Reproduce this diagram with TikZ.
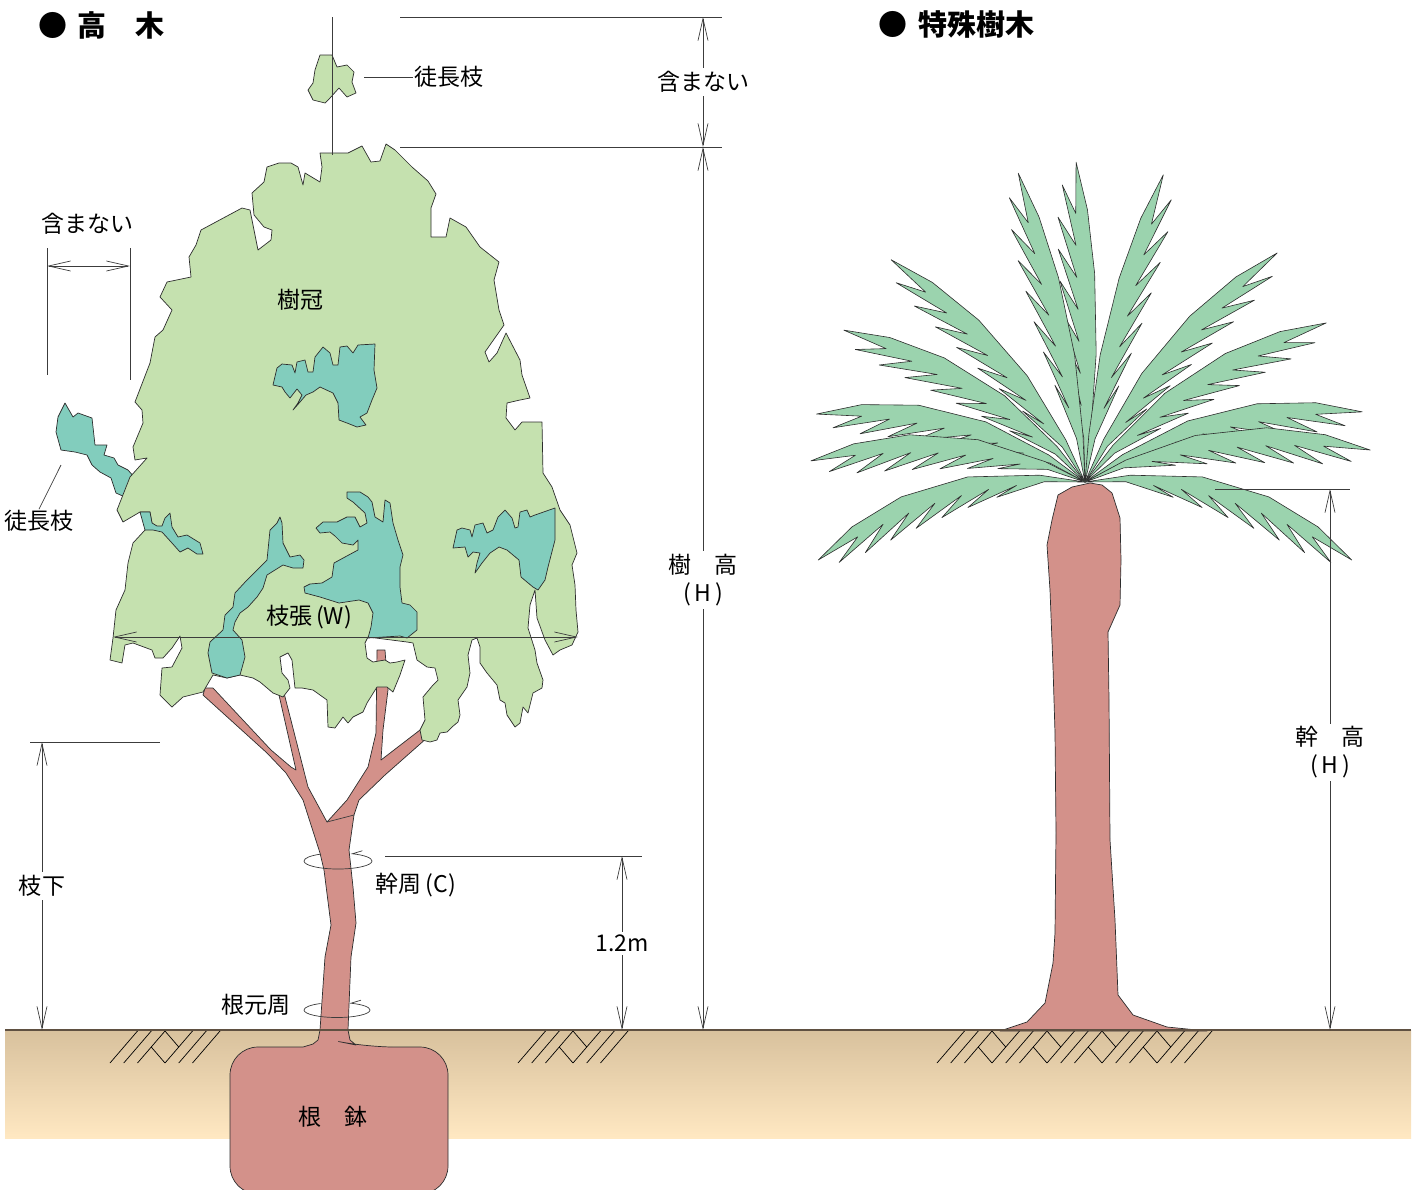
\documentclass[tikz,border=0pt]{standalone}
\usepackage{fontspec}
\newfontfamily\jpfont{Noto Sans CJK JP}
\usetikzlibrary{arrows.meta}
\definecolor{crowngreen}{RGB}{197,225,175}
\definecolor{tealgreen}{RGB}{130,205,189}
\definecolor{barkred}{RGB}{211,145,138}
\definecolor{frondgreen}{RGB}{155,211,174}
\definecolor{soiltop}{RGB}{216,193,157}
\definecolor{soilbot}{RGB}{255,232,194}
\definecolor{outline}{RGB}{45,45,45}
\definecolor{dimgray}{RGB}{60,60,60}
\definecolor{groundline}{RGB}{95,80,65}

\begin{document}
\begin{tikzpicture}[x=1pt, y=-1pt, >={Straight Barb[length=22pt,width=10pt]},
	every node/.style={font=\jpfont\fontsize{23}{28}\selectfont, inner sep=1pt, align=center}]
	\tikzset{
		crown/.style={fill=crowngreen, draw=outline, line width=0.7pt, line join=round},
		tealpatch/.style={fill=tealgreen, draw=outline, line width=0.7pt, line join=round},
		bark/.style={fill=barkred, draw=outline, line width=0.7pt, line join=round},
		leafy/.style={fill=frondgreen, draw=outline, line width=0.6pt, line join=round},
		dimline/.style={draw=dimgray, line width=0.7pt},
		hatchline/.style={draw=black, line width=0.7pt},
		lab/.style={fill=white, inner sep=3pt},
		heading/.style={anchor=west, inner sep=0pt, font=\jpfont\bfseries\fontsize{29}{32}\selectfont},
		pics/frond/.style={code={
			\draw[leafy] (0,0) -- (15,{-4+.51*#1}) -- (40,{-9+.96*#1}) -- (65,{-10+.91*#1})
				-- (85,{-7+.51*#1}) -- (100,0)
				-- (84,{5+.54*#1}) -- (93,{16+.26*#1}) -- (74,{7+.77*#1}) -- (83,{23+.56*#1})
				-- (64,{8+.92*#1}) -- (73,{25+.79*#1}) -- (54,{8+.99*#1}) -- (63,{25+.93*#1})
				-- (44,{8+.99*#1}) -- (53,{24+#1}) -- (34,{7+.9*#1}) -- (43,{21+.98*#1})
				-- (24,{6+.73*#1}) -- (32,{16+.87*#1}) -- (14,{3+.49*#1}) -- cycle;}}
	}
	\useasboundingbox (0,0) rectangle (1421,1189);

	% soil
	\fill[top color=soiltop, bottom color=soilbot] (5,1030) rectangle (1411,1138);
	\foreach \x/\ks in {110/{0,1,2,4,5,6}, 518/{0,1,2,4,5,6}, 937/{0,1,2,4,5,6,8,9,10,12,13,14,16,17,18}}
		\foreach \k in \ks
			\draw[hatchline] (\x+\k*13.75,1063) -- ++(27.5,-32);
	\foreach \c in {165, 573, 992, 1047, 1102, 1157}
		\draw[hatchline] (\c,1031) -- ++(13.75,16) (\c-13.75,1047) -- ++(13.75,16);

	% root ball and trunk
	\draw[bark] (320,1030) -- (318,1040) -- (313,1044) -- (303,1047) [rounded corners=28pt] -- (230,1047)
		-- (230,1194) -- (448,1194) -- (448,1047) -- (366,1047) [sharp corners] -- (356,1045) -- (350,1040) -- (348,1030);
	\draw[bark] (320,1030) -- (325,957) -- (331,925) -- (324,870) -- (320,853) -- (303,800) -- (286,773)
		-- (267,753) -- (203,695) -- (205,688) -- (213,688) -- (271,750) -- (291,767) -- (296,770)
		-- (279,695) -- (284,693) -- (308,787) -- (327,822) -- (347,800) -- (368,767) -- (376,733)
		-- (377,650) -- (385,650) -- (388,690) -- (383,730) -- (381,760) -- (420,730) -- (428,737)
		-- (385,775) -- (359,800) -- (354,815) -- (349,850) -- (353,887) -- (356,923) -- (351,957)
		-- (348,1030) -- cycle;
	\draw[dimline] (327,822) -- (354,815);

	% water sprouts and crown
	\draw[tealpatch] (56,432) -- (58,417) -- (65,403) -- (73,417) -- (78,413) -- (92,418) -- (95,445)
		-- (107,445) -- (104,455) -- (114,458) -- (118,465) -- (128,470) -- (135,478) -- (135,492)
		-- (125,497) -- (116,493) -- (111,478) -- (100,472) -- (92,465) -- (87,455) -- (75,452)
		-- (61,450) -- cycle;
	\draw[crown] (308,90) -- (313,83) -- (315,70) -- (320,55) -- (332,55) -- (337,67) -- (347,65)
		-- (354,72) -- (352,82) -- (356,93) -- (347,97) -- (339,88) -- (330,98) -- (325,103)
		-- (313,100) -- cycle;
	\draw[crown] (320,153) -- (348,153) -- (362,146) -- (371,162) -- (380,161) -- (386,144) -- (395,150)
		-- (412,167) -- (428,181) -- (436,194) -- (431,208) -- (431,237) -- (446,237) -- (450,218)
		-- (466,227) -- (480,247) -- (499,262) -- (494,280) -- (499,310) -- (504,325) -- (485,352)
		-- (489,362) -- (497,353) -- (506,333) -- (520,360) -- (522,375) -- (530,398) -- (520,400)
		-- (507,403) -- (506,418) -- (515,430) -- (522,422) -- (542,422) -- (543,473) -- (552,487)
		-- (560,510) -- (570,525) -- (577,553) -- (572,565) -- (575,585) -- (576,610) -- (578,632)
		-- (572,645) -- (560,650) -- (553,655) -- (545,640) -- (537,618) -- (535,590) -- (530,605)
		-- (528,628) -- (535,650) -- (537,663) -- (543,680) -- (542,688) -- (533,693) -- (528,713)
		-- (523,707) -- (520,723) -- (515,727) -- (507,715) -- (505,703) -- (500,700) -- (497,685)
		-- (487,673) -- (480,663) -- (480,647) -- (477,638) -- (472,640) -- (468,655) -- (470,673)
		-- (467,687) -- (458,700) -- (460,715) -- (458,722) -- (452,727) -- (447,732) -- (440,733)
		-- (437,740) -- (430,742) -- (422,740) -- (420,730) -- (425,720) -- (423,697) -- (433,685)
		-- (438,680) -- (435,668) -- (427,667) -- (417,660) -- (413,643) -- (407,642) -- (368,637)
		-- (365,643) -- (367,658) -- (373,662) -- (385,660) -- (390,663) -- (397,662) -- (405,660)
		-- (400,675) -- (393,692) -- (387,687) -- (377,687) -- (367,703) -- (363,712) -- (353,717)
		-- (348,723) -- (343,717) -- (335,728) -- (328,727) -- (327,700) -- (313,690) -- (302,688)
		-- (295,688) -- (292,660) -- (288,653) -- (280,657) -- (282,673) -- (288,680) -- (290,688)
		-- (283,697) -- (273,693) -- (260,682) -- (253,678) -- (240,675) -- (227,678) -- (213,675)
		-- (203,692) -- (183,697) -- (172,707) -- (160,695) -- (162,668) -- (172,667) -- (182,648)
		-- (180,636) -- (172,648) -- (163,658) -- (155,658) -- (152,650) -- (133,643) -- (125,645)
		-- (122,663) -- (110,660) -- (113,638) -- (116,610) -- (125,590) -- (128,563) -- (133,543)
		-- (145,530) -- (152,523) -- (150,512) -- (140,512) -- (123,522) -- (117,510) -- (130,477)
		-- (147,458) -- (135,460) -- (133,447) -- (143,423) -- (142,410) -- (135,402) -- (150,363)
		-- (155,337) -- (163,330) -- (172,310) -- (160,297) -- (167,282) -- (191,277) -- (189,257)
		-- (196,245) -- (201,230) -- (242,208) -- (250,210) -- (258,250) -- (271,240) -- (272,230)
		-- (264,227) -- (254,215) -- (252,193) -- (264,182) -- (267,167) -- (279,163) -- (291,163)
		-- (298,167) -- (303,185) -- (305,173) -- (320,182) -- (322,167) -- cycle;

	% shaded patches in the crown
	\draw[tealpatch] (273,385) -- (277,368) -- (282,364) -- (292,365) -- (295,373) -- (297,362) -- (305,360)
		-- (308,372) -- (313,372) -- (315,357) -- (323,347) -- (330,353) -- (333,365) -- (338,365)
		-- (340,347) -- (347,346) -- (353,353) -- (358,345) -- (375,344) -- (374,370) -- (377,388)
		-- (372,400) -- (367,413) -- (360,417) -- (366,425) -- (357,427) -- (347,423) -- (339,420)
		-- (338,403) -- (333,393) -- (320,387) -- (313,392) -- (306,395) -- (300,402) -- (293,410)
		-- (298,403) -- (302,395) -- (297,389) -- (290,398) -- (285,392) -- (282,387) -- cycle;
	\draw[tealpatch] (140,512) -- (150,512) -- (152,523) -- (157,526) -- (162,526) -- (165,518) -- (170,513)
		-- (172,527) -- (178,537) -- (187,535) -- (200,543) -- (203,554) -- (197,554) -- (188,548)
		-- (180,552) -- (172,543) -- (162,532) -- (153,530) -- (145,530) -- cycle;
	\draw[tealpatch] (267,560) -- (270,530) -- (277,523) -- (280,517) -- (282,523) -- (283,543) -- (290,557)
		-- (300,555) -- (304,560) -- (303,568) -- (293,568) -- (283,565) -- (267,575) -- (263,588)
		-- (257,597) -- (248,607) -- (240,613) -- (235,622) -- (233,630) -- (242,640) -- (245,657)
		-- (240,675) -- (227,678) -- (212,673) -- (208,653) -- (210,642) -- (223,630) -- (225,615)
		-- (233,607) -- (235,593) -- (247,580) -- (260,567) -- cycle;
	\draw[tealpatch] (347,492) -- (360,492) -- (368,497) -- (372,502) -- (375,517) -- (383,522) -- (385,500)
		-- (390,503) -- (393,523) -- (398,540) -- (403,555) -- (400,567) -- (400,587) -- (402,603)
		-- (410,605) -- (417,612) -- (417,630) -- (407,638) -- (400,636) -- (368,638) -- (371,627)
		-- (373,613) -- (368,603) -- (359,600) -- (339,603) -- (320,597) -- (305,593) -- (304,587)
		-- (310,584) -- (322,583) -- (332,577) -- (334,563) -- (345,557) -- (358,550) -- (358,540)
		-- (353,545) -- (342,543) -- (335,536) -- (330,532) -- (320,533) -- (316,528) -- (323,522)
		-- (337,522) -- (347,517) -- (355,517) -- (360,527) -- (367,523) -- (365,513) -- (353,502)
		-- (347,498) -- cycle;
	\draw[tealpatch] (453,548) -- (457,530) -- (462,528) -- (470,530) -- (472,537) -- (475,525) -- (483,523)
		-- (487,533) -- (493,530) -- (498,517) -- (505,510) -- (512,518) -- (515,528) -- (518,527)
		-- (520,512) -- (527,510) -- (530,517) -- (535,515) -- (555,508) -- (555,540) -- (548,567)
		-- (545,580) -- (538,590) -- (533,587) -- (521,577) -- (519,560) -- (507,550) -- (499,547)
		-- (490,553) -- (482,563) -- (475,573) -- (477,563) -- (480,553) -- (473,552) -- (468,557)
		-- (465,547) -- cycle;

	% trunk girth rings
	\coordinate (ring1) at (338,861);
	\coordinate (ring2) at (337,1010);
	\draw[dimline] (ring1) ++(-34,0) arc[start angle=180, end angle=0, x radius=34, y radius=8]
		arc[start angle=0, end angle=-65, x radius=34, y radius=8] -- ++(10,-3);
	\draw[dimline] (ring1) ++(-34,0) arc[start angle=180, end angle=240, x radius=34, y radius=8];
	\draw[dimline] (ring2) ++(-33,0) arc[start angle=180, end angle=0, x radius=33, y radius=7.5]
		arc[start angle=0, end angle=-65, x radius=33, y radius=7.5] -- ++(10,-3);
	\draw[dimline] (ring2) ++(-33,0) arc[start angle=180, end angle=240, x radius=33, y radius=7.5];

	% palm
	\coordinate (palmtop) at (1085,482);
	\foreach \a/\l/\s/\b in {91.6/320/-1/-6, 102.2/316/-1/-8, 75.7/317/1/-8, 131.1/295/-1/-18,
		50/299/1/-18, 147.8/285/-1/-22, 33.4/289/1/-22, 165.8/277/-1/-26, 14.2/286/1/-26,
		175.6/275/-1/-26, 6.4/287/1/-26, 196.3/278/-1/-30, -16.3/278/1/-30}
	\pic[rotate=\a, xscale=\l/100, yscale=\s] at (palmtop) {frond=\b};
	\draw[bark] (1000,1031) -- (1027,1022) -- (1045,1003) -- (1053,963) -- (1055,933) -- (1056,833)
		-- (1055,733) -- (1053,667) -- (1050,590) -- (1047,545) -- (1052,520) -- (1058,495) -- (1072,487)
		-- (1090,483) -- (1102,485) -- (1112,493) -- (1120,518) -- (1121,560) -- (1120,605) -- (1108,632)
		-- (1109,700) -- (1110,840) -- (1115,920) -- (1118,995) -- (1133,1015) -- (1167,1027)
		-- (1207,1031) -- cycle;

	% ground line
	\coordinate (gndL) at (5,1030);
	\coordinate (gndR) at (1411,1030);
	\draw[draw=groundline, line width=1.2pt] (gndL) -- (gndR);

	% dimensions
	\coordinate (thTop) at (703,17);
	\coordinate (thCrown) at (703,147);
	\coordinate (thBase) at (703,1030);
	\draw[dimline] (400,17) -- (722,17) (400,147) -- (722,147) (332,17) -- (332,155);
	\draw[dimline,<->] (thTop) -- node[lab]{含まない} (thCrown);
	\draw[dimline,<->] (thCrown) -- node[lab, pos=0.49]{樹　高\\(\,H\,)} (thBase);

	\coordinate (exL) at (47,266);
	\coordinate (exR) at (130,266);
	\draw[dimline] (47,248) -- (47,375) (130,248) -- (130,380);
	\draw[dimline,<->] (exL) -- (exR);
	\node (exlab) at (87,224) {含まない};

	\coordinate (wL) at (113,637);
	\coordinate (wR) at (578,637);
	\draw[dimline,<->] (wL) -- (wR);
	\node (wlab) at (309,617) {枝張\,(W)};

	\coordinate (cTop) at (622,856);
	\coordinate (cBase) at (622,1030);
	\draw[dimline] (385,856) -- (642,856);
	\draw[dimline,<->] (cTop) -- node[lab]{1.2m} (cBase);

	\coordinate (bTop) at (42,742);
	\coordinate (bBase) at (42,1030);
	\draw[dimline] (30,742) -- (160,742);
	\draw[dimline,<->] (bTop) -- node[lab]{枝下} (bBase);

	\coordinate (phTop) at (1330,489);
	\coordinate (phBase) at (1330,1030);
	\draw[dimline] (1215,489) -- (1350,489);
	\draw[dimline,<->] (phTop) -- node[lab, pos=0.487]{幹　高\\(\,H\,)} (phBase);

	% labels
	\node[heading] (headL) at (38,25) {●\hspace{10pt}高　木};
	\node[heading] (headR) at (878,25) {●\hspace{11pt}特殊樹木};
	\node (crownlab) at (300,300) {樹冠};
	\node (sprout1) at (449,77) {徒長枝};
	\coordinate (sp1) at (364,77);
	\draw[dimline] (sp1) -- (sprout1.west);
	\node (sprout2) at (39,521) {徒長枝};
	\coordinate (sp2) at (61,465);
	\draw[dimline] (sp2) -- (sprout2.north);
	\node (girth) at (416,885) {幹周\,(C)};
	\node (rootgirth) at (256,1005) {根元周};
	\node (rootball) at (333,1117) {根　鉢};
\end{tikzpicture}
\end{document}
